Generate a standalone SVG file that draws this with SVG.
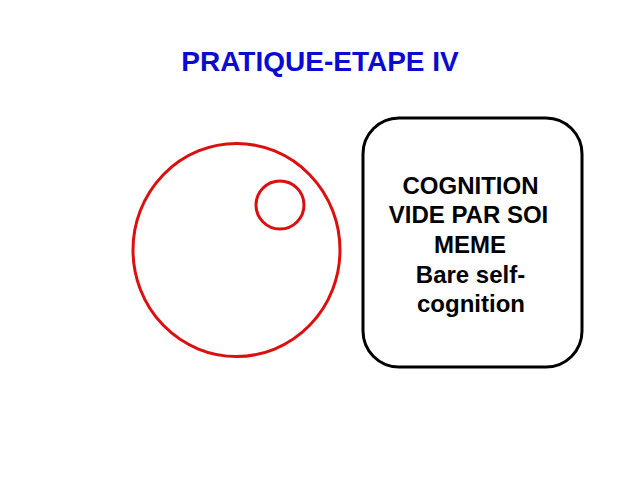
<svg xmlns="http://www.w3.org/2000/svg" width="640" height="480" viewBox="0 0 640 480">
<style>
.t{font-family:"Liberation Sans",Arial,sans-serif;font-weight:bold;}
.title{font-size:28px;fill:#0a0ad2;}
.lbl{font-size:24px;fill:#000;text-anchor:middle;}
.red{fill:none;stroke:#dc0f0f;stroke-width:3;}
</style>
<rect width="640" height="480" fill="#fff"/>
<g id="title"><text class="t title" x="320" y="71" text-anchor="middle">PRATIQUE-ETAPE IV</text></g>
<g id="big-circle"><ellipse class="red" cx="236.5" cy="250" rx="103.5" ry="106.5"/></g>
<g id="small-circle"><circle class="red" cx="280" cy="205" r="24"/></g>
<g id="box">
<rect x="363" y="118" width="219" height="249" rx="36" ry="36" fill="none" stroke="#000" stroke-width="3"/>
<text class="t lbl" x="470.5" y="193.5">COGNITION</text>
<text class="t lbl" x="468.5" y="223">VIDE PAR SOI</text>
<text class="t lbl" x="470" y="252.5">MEME</text>
<text class="t lbl" x="470.5" y="282.5">Bare self-</text>
<text class="t lbl" x="471" y="311.5">cognition</text>
</g>
<g id="connectors"></g>
</svg>
